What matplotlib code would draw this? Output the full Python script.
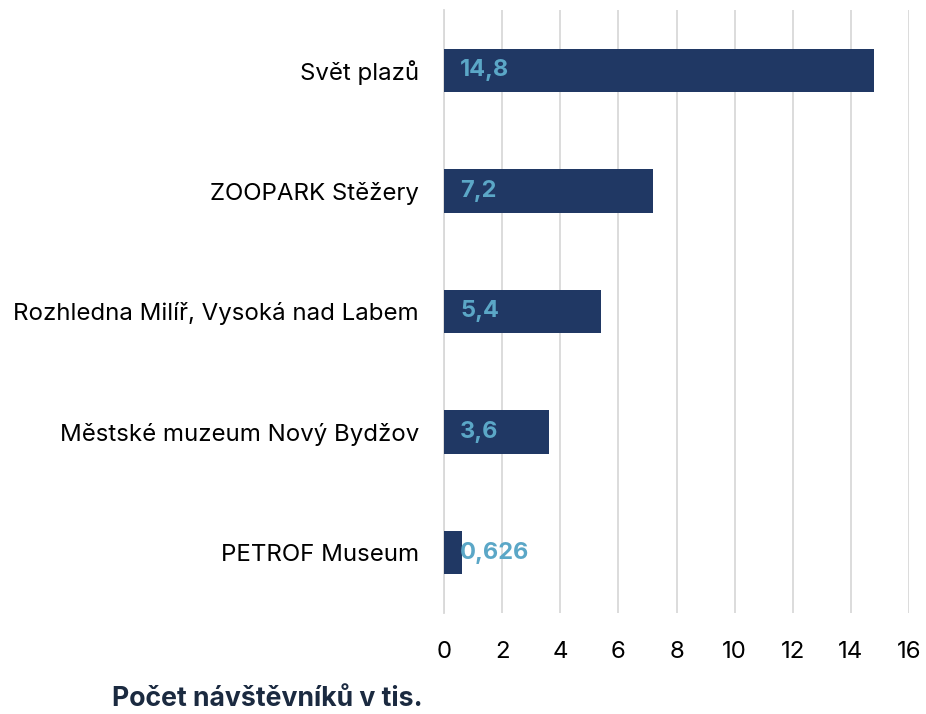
import matplotlib
matplotlib.use('Agg')
import matplotlib.pyplot as plt

categories = ['PETROF Museum', 'Městské muzeum Nový Bydžov',
              'Rozhledna Milíř, Vysoká nad Labem', 'ZOOPARK Stěžery', 'Svět plazů']
visitors = [0.626, 3.6, 5.4, 7.2, 14.8]
value_labels = ['0,626', '3,6', '5,4', '7,2', '14,8']
xticks = [0, 2, 4, 6, 8, 10, 12, 14, 16]

plt.rcParams['font.family'] = ['Inter', 'DejaVu Sans']

fig = plt.figure(figsize=(9.26, 7.14), dpi=100)
ax = fig.add_axes([0.4795, 0.1415, 0.5022, 0.8445])

pos = list(range(len(categories)))
ax.barh(pos, visitors, height=0.36, color='#203864', zorder=3)
for p, lab in zip(pos, value_labels):
    ax.text(0.55, p, lab, va='center', ha='left', fontsize=17,
            fontweight='bold', color='#5BA7C7', zorder=4)

ax.set_xlim(0, 16)
ax.set_ylim(-0.5, 4.5)
ax.set_xticks(xticks)
ax.set_xticklabels([str(t) for t in xticks])
ax.set_yticks(pos)
ax.set_yticklabels(categories)
ax.tick_params(axis='both', length=0, labelsize=17.3, colors='#000000')
ax.tick_params(axis='x', pad=20)
ax.tick_params(axis='y', pad=18)
ax.grid(axis='x', color='#D9D9D9', linewidth=1.3, zorder=0)
for s in ['top', 'right', 'bottom']:
    ax.spines[s].set_visible(False)
ax.spines['left'].set_color('#D9D9D9')
ax.spines['left'].set_linewidth(1.3)

fig.text(0.121, 0.003, 'Počet návštěvníků v tis.', fontsize=19.2, fontweight='bold',
         color='#1B2A40', ha='left', va='bottom')

fig.savefig('out.png', dpi=100)
